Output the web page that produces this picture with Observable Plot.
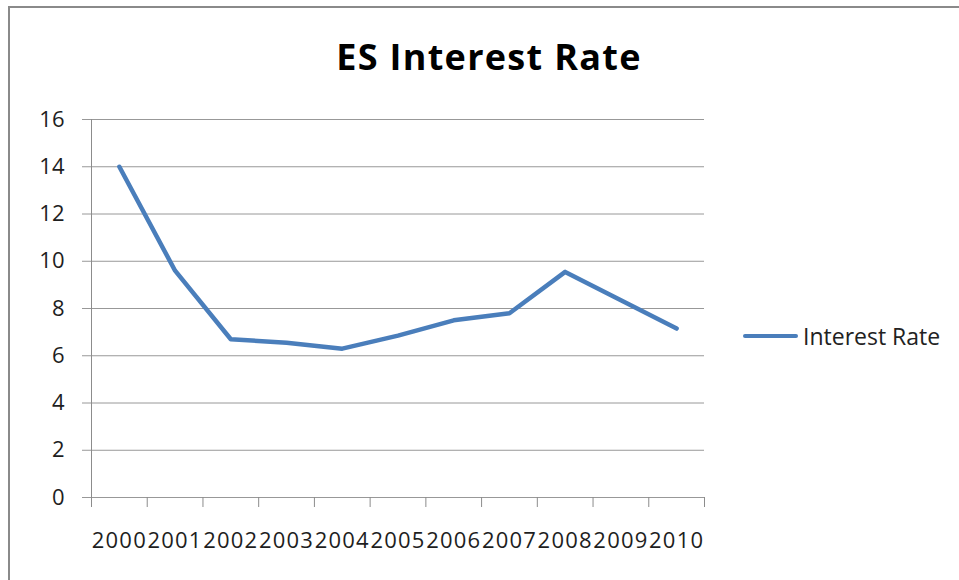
<!DOCTYPE html>
<html>
<head>
<meta charset="utf-8">
<script src="https://cdn.jsdelivr.net/npm/d3@7"></script>
<script src="https://cdn.jsdelivr.net/npm/@observablehq/plot@0.6"></script>
<style>
  html, body { margin: 0; padding: 0; background: #fff; }
  #wrap { position: relative; width: 959px; height: 580px; overflow: hidden; font-family: "Open Sans", sans-serif; }
  #frame { position: absolute; left: 8px; top: 6px; right: -4px; bottom: -4px; border-left: 2px solid #8a8a8a; border-top: 2px solid #8a8a8a; }
  #chart { position: absolute; left: 0; top: 0; }
  #title { position: absolute; left: 0; width: 978px; top: 33px; text-align: center; font-size: 36px; font-weight: 700; letter-spacing: 1.3px; color: #000; line-height: 48px; }
  #legend { position: absolute; left: 743px; top: 321px; display: flex; align-items: center; font-size: 23px; color: #222; line-height: 30px; }
  #legend .swatch { width: 55px; height: 4px; background: #4a7ebb; border-radius: 2px; margin-right: 5px; }
</style>
</head>
<body>
<div id="wrap">
  <div id="frame"></div>
  <div id="chart"></div>
  <div id="title"></div>
  <div id="legend"><div class="swatch"></div><span class="name"></span></div>
</div>
<script>
// Annual interest rate, 2000–2010
const titleText = "ES Interest Rate";
const seriesName = "Interest Rate";
const years = [2000, 2001, 2002, 2003, 2004, 2005, 2006, 2007, 2008, 2009, 2010];
const rates = [14.0, 9.6, 6.7, 6.55, 6.3, 6.85, 7.5, 7.8, 9.55, 8.35, 7.15];
const yTicks = [0, 2, 4, 6, 8, 10, 12, 14, 16];

const data = years.map((year, i) => ({year, rate: rates[i]}));
// category boundaries: tick marks sit between the years
const bounds = [...years.map(y => y - 0.5), years[years.length - 1] + 0.5];

const gridColor = "#989898";
const axisColor = "#8c8c8c";

const chart = Plot.plot({
  width: 959,
  height: 580,
  marginLeft: 91,
  marginRight: 255,
  marginTop: 119,
  marginBottom: 83,
  x: {type: "linear", domain: [bounds[0], bounds[bounds.length - 1]]},
  y: {domain: [0, 16]},
  style: {fontFamily: "Open Sans, sans-serif", fontSize: "22px", color: "#222", background: "transparent", overflow: "visible"},
  marks: [
    Plot.gridY(yTicks, {stroke: gridColor, strokeOpacity: 1}),
    Plot.axisY(yTicks, {tickSize: 9, tickPadding: 18, stroke: gridColor, strokeOpacity: 1, label: null, fill: "#1e1e1e"}),
    Plot.ruleX([bounds[0]], {stroke: axisColor, strokeOpacity: 1}),
    Plot.axisX(bounds, {tickSize: 10, tickFormat: () => "", stroke: axisColor, strokeOpacity: 1, label: null}),
    Plot.axisX(years, {tickSize: 0, tickPadding: 35, tickFormat: d => String(d), label: null, fill: "#1e1e1e"}),
    Plot.line(data, {x: "year", y: "rate", stroke: "#4a7ebb", strokeWidth: 4.5, strokeLinejoin: "round", strokeLinecap: "round"})
  ]
});

d3.select(chart).selectAll("[aria-label='x-axis tick label'] text").style("letter-spacing", "1.2px");

document.getElementById("chart").appendChild(chart);
document.getElementById("title").textContent = titleText;
document.querySelector("#legend .name").textContent = seriesName;
</script>
</body>
</html>
